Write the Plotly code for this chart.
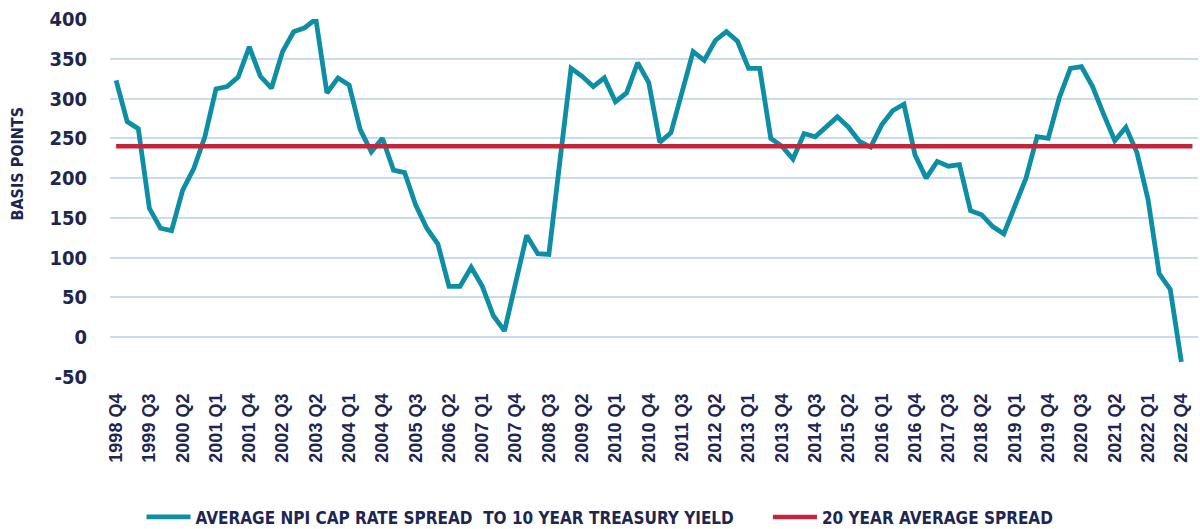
import plotly.graph_objects as go

quarters = [
    "1998 Q4",
    "1999 Q1", "1999 Q2", "1999 Q3", "1999 Q4",
    "2000 Q1", "2000 Q2", "2000 Q3", "2000 Q4",
    "2001 Q1", "2001 Q2", "2001 Q3", "2001 Q4",
    "2002 Q1", "2002 Q2", "2002 Q3", "2002 Q4",
    "2003 Q1", "2003 Q2", "2003 Q3", "2003 Q4",
    "2004 Q1", "2004 Q2", "2004 Q3", "2004 Q4",
    "2005 Q1", "2005 Q2", "2005 Q3", "2005 Q4",
    "2006 Q1", "2006 Q2", "2006 Q3", "2006 Q4",
    "2007 Q1", "2007 Q2", "2007 Q3", "2007 Q4",
    "2008 Q1", "2008 Q2", "2008 Q3", "2008 Q4",
    "2009 Q1", "2009 Q2", "2009 Q3", "2009 Q4",
    "2010 Q1", "2010 Q2", "2010 Q3", "2010 Q4",
    "2011 Q1", "2011 Q2", "2011 Q3", "2011 Q4",
    "2012 Q1", "2012 Q2", "2012 Q3", "2012 Q4",
    "2013 Q1", "2013 Q2", "2013 Q3", "2013 Q4",
    "2014 Q1", "2014 Q2", "2014 Q3", "2014 Q4",
    "2015 Q1", "2015 Q2", "2015 Q3", "2015 Q4",
    "2016 Q1", "2016 Q2", "2016 Q3", "2016 Q4",
    "2017 Q1", "2017 Q2", "2017 Q3", "2017 Q4",
    "2018 Q1", "2018 Q2", "2018 Q3", "2018 Q4",
    "2019 Q1", "2019 Q2", "2019 Q3", "2019 Q4",
    "2020 Q1", "2020 Q2", "2020 Q3", "2020 Q4",
    "2021 Q1", "2021 Q2", "2021 Q3", "2021 Q4",
    "2022 Q1", "2022 Q2", "2022 Q3", "2022 Q4",
]

spread = [
    323, 271, 262, 162, 137, 134, 185, 212, 252, 312,
    315, 327, 365, 328, 313, 359, 384, 389, 400, 307,
    326, 317, 261, 233, 250, 210, 207, 166, 137, 117,
    64, 64, 88, 64, 27, 8, 68, 128, 105, 104,
    222, 338, 328, 315, 326, 296, 307, 345, 320, 245,
    257, 309, 359, 348, 373, 384, 372, 338, 338, 250,
    240, 224, 256, 252, 264, 277, 264, 246, 239, 267,
    285, 293, 229, 200, 221, 215, 217, 159, 154, 139,
    130, 164, 200, 252, 250, 301, 338, 340, 315, 280,
    247, 264, 232, 173, 80, 60, -31,
]

avg_quarters = quarters + ["2023 Q1"]
avg_spread = [240] * len(avg_quarters)

tick_labels = [
    "1998 Q4", "1999 Q3", "2000 Q2", "2001 Q1", "2001 Q4", "2002 Q3", "2003 Q2",
    "2004 Q1", "2004 Q4", "2005 Q3", "2006 Q2", "2007 Q1", "2007 Q4", "2008 Q3",
    "2009 Q2", "2010 Q1", "2010 Q4", "2011 Q3", "2012 Q2", "2013 Q1", "2013 Q4",
    "2014 Q3", "2015 Q2", "2016 Q1", "2016 Q4", "2017 Q3", "2018 Q2", "2019 Q1",
    "2019 Q4", "2020 Q3", "2021 Q2", "2022 Q1", "2022 Q4",
]
y_ticks = [-50, 0, 50, 100, 150, 200, 250, 300, 350, 400]

NAVY = "#1d2651"
TEAL = "#0e8ea4"
RED = "#c4253b"
GRID = "#c9dcef"
COND = "DejaVu Sans Condensed, Liberation Sans Narrow, sans-serif"
NB = "\u00a0"

fig = go.Figure()
fig.add_trace(go.Scatter(
    x=quarters, y=spread, mode="lines",
    name="<b>AVERAGE NPI CAP RATE SPREAD  TO 10 YEAR TREASURY YIELD</b>" + NB * 6,
    line=dict(color=TEAL, width=4.8),
))
fig.add_trace(go.Scatter(
    x=avg_quarters, y=avg_spread, mode="lines",
    name="<b>20 YEAR AVERAGE SPREAD</b>",
    line=dict(color=RED, width=4.5),
))

fig.update_layout(
    width=1200, height=529,
    margin=dict(l=110, r=2, t=19, b=152),
    plot_bgcolor="white", paper_bgcolor="white",
    font=dict(family=COND, color=NAVY),
    showlegend=True,
    legend=dict(
        orientation="h",
        xref="container", yref="container",
        x=0.5, xanchor="center",
        y=0.022, yanchor="middle",
        font=dict(family=COND, size=17, color=NAVY),
        itemwidth=44, tracegroupgap=0,
    ),
    annotations=[dict(
        text="<b>BASIS POINTS</b>", xref="paper", yref="paper",
        x=-0.085, y=0.595, xanchor="center", yanchor="middle",
        textangle=-90, showarrow=False,
        font=dict(family=COND, size=16, color=NAVY),
    )],
)
fig.update_xaxes(
    type="category", categoryorder="array", categoryarray=avg_quarters,
    range=[-0.55, 97.5],
    tickmode="array", tickvals=tick_labels,
    ticktext=[f"<b>{t}</b>" for t in tick_labels],
    tickangle=-90, showgrid=False, zeroline=False, showline=False,
    tickfont=dict(family="Liberation Sans, Arial, sans-serif", size=18, color=NAVY),
    ticks="", ticklabelstandoff=12,
)
fig.update_yaxes(
    range=[-50, 400], tickmode="array", tickvals=y_ticks,
    ticktext=[f"<b>{v}</b>" for v in y_ticks],
    showgrid=True, gridcolor=GRID, gridwidth=1.5,
    zeroline=False, showline=False, ticks="",
    tickfont=dict(family=COND, size=20, color=NAVY),
    ticklabelstandoff=22,
)

fig.write_html(
    "out.html",
    config={"displayModeBar": False},
    post_script="document.body.style.margin='0';",
)
